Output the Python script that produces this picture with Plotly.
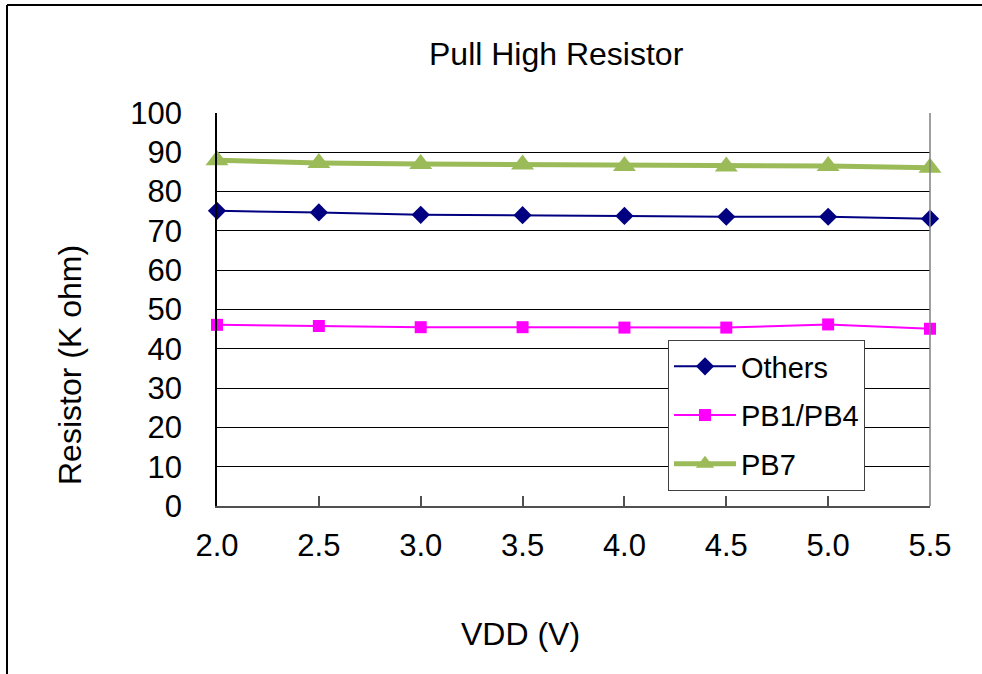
import plotly.graph_objects as go

vdd = [2.0, 2.5, 3.0, 3.5, 4.0, 4.5, 5.0, 5.5]
tick_labels = ["2.0", "2.5", "3.0", "3.5", "4.0", "4.5", "5.0", "5.5"]
others = [75.1, 74.7, 74.1, 74.0, 73.8, 73.6, 73.6, 73.1]
pb1_pb4 = [46.1, 45.8, 45.5, 45.5, 45.4, 45.4, 46.2, 45.1]
pb7 = [88.0, 87.3, 87.0, 86.9, 86.5, 86.4, 86.5, 86.1]

W, H = 982, 674
L, R, T, B = 217, 930, 113, 506

def px_x(p):
    return (p - L) / (R - L)

def px_y(p):
    return (B - p) / (B - T)

FONT = "Liberation Sans, Arial, sans-serif"

fig = go.Figure()
fig.add_trace(go.Scatter(
    x=vdd, y=others, name="Others", mode="lines+markers",
    line=dict(color="#000080", width=2),
    marker=dict(symbol="diamond", size=14, color="#000080"),
    cliponaxis=False, legendgroup="a"))
fig.add_trace(go.Scatter(
    x=vdd, y=pb1_pb4, name="PB1/PB4", mode="lines+markers",
    line=dict(color="#FF00FF", width=2),
    marker=dict(symbol="square", size=12, color="#FF00FF"),
    cliponaxis=False, legendgroup="b"))
fig.add_trace(go.Scatter(
    x=vdd, y=pb7, name="PB7", mode="lines+markers",
    line=dict(color="#9BBB59", width=5),
    marker=dict(symbol="triangle-up", size=20, color="#9BBB59"),
    cliponaxis=False, legendgroup="c"))

fig.update_layout(
    width=W, height=H,
    margin=dict(l=L, r=W - R, t=T, b=H - B, autoexpand=False),
    paper_bgcolor="white", plot_bgcolor="white",
    font=dict(family=FONT, size=31, color="black"),
    showlegend=True,
    legend=dict(
        x=px_x(668), y=px_y(340), xanchor="left", yanchor="top",
        bgcolor="white", bordercolor="#404040", borderwidth=1,
        font=dict(family=FONT, size=29, color="black"),
        itemwidth=62, tracegroupgap=8, traceorder="grouped"),
)

fig.update_xaxes(
    range=[2.0, 5.5], tickvals=vdd, ticktext=tick_labels,
    showgrid=False, zeroline=False,
    showline=True, linecolor="#505050", linewidth=1.5,
    ticks="inside", ticklen=10, tickcolor="#505050", tickwidth=1.5,
    ticklabelstandoff=11,
    tickfont=dict(family=FONT, size=31, color="black"))
fig.update_yaxes(
    range=[0, 100], tickvals=list(range(0, 101, 10)),
    showgrid=True, gridcolor="black", gridwidth=1, zeroline=False,
    showline=True, linecolor="black", linewidth=1.5,
    ticks="", ticklabelstandoff=27,
    tickfont=dict(family=FONT, size=31, color="black"))

fig.add_annotation(text="Pull High Resistor", xref="paper", yref="paper",
                   x=px_x(556.5), y=px_y(54), xanchor="center", yanchor="middle",
                   showarrow=False, font=dict(family=FONT, size=32, color="black"))
fig.add_annotation(text="VDD (V)", xref="paper", yref="paper",
                   x=px_x(520), y=px_y(634), xanchor="center", yanchor="middle",
                   showarrow=False, font=dict(family=FONT, size=32, color="black"))
fig.add_annotation(text="Resistor (K ohm)", xref="paper", yref="paper",
                   x=px_x(70), y=px_y(365), xanchor="center", yanchor="middle",
                   textangle=-90, showarrow=False,
                   font=dict(family=FONT, size=32, color="black"))

# right border of plot area
fig.add_shape(type="line", xref="paper", yref="paper", x0=1, x1=1, y0=0, y1=1,
              line=dict(color="#808080", width=1.5))
# outer chart frame: only left and top edges are visible
fig.add_shape(type="line", xref="paper", yref="paper",
              x0=px_x(7), x1=px_x(7), y0=px_y(H), y1=px_y(5),
              line=dict(color="black", width=2), layer="below")
fig.add_shape(type="line", xref="paper", yref="paper",
              x0=px_x(7), x1=px_x(W), y0=px_y(5), y1=px_y(5),
              line=dict(color="black", width=2), layer="below")

fig.write_html("out.html", config={"displayModeBar": False},
               post_script="document.body.style.margin='0px';document.body.style.overflow='hidden';")
